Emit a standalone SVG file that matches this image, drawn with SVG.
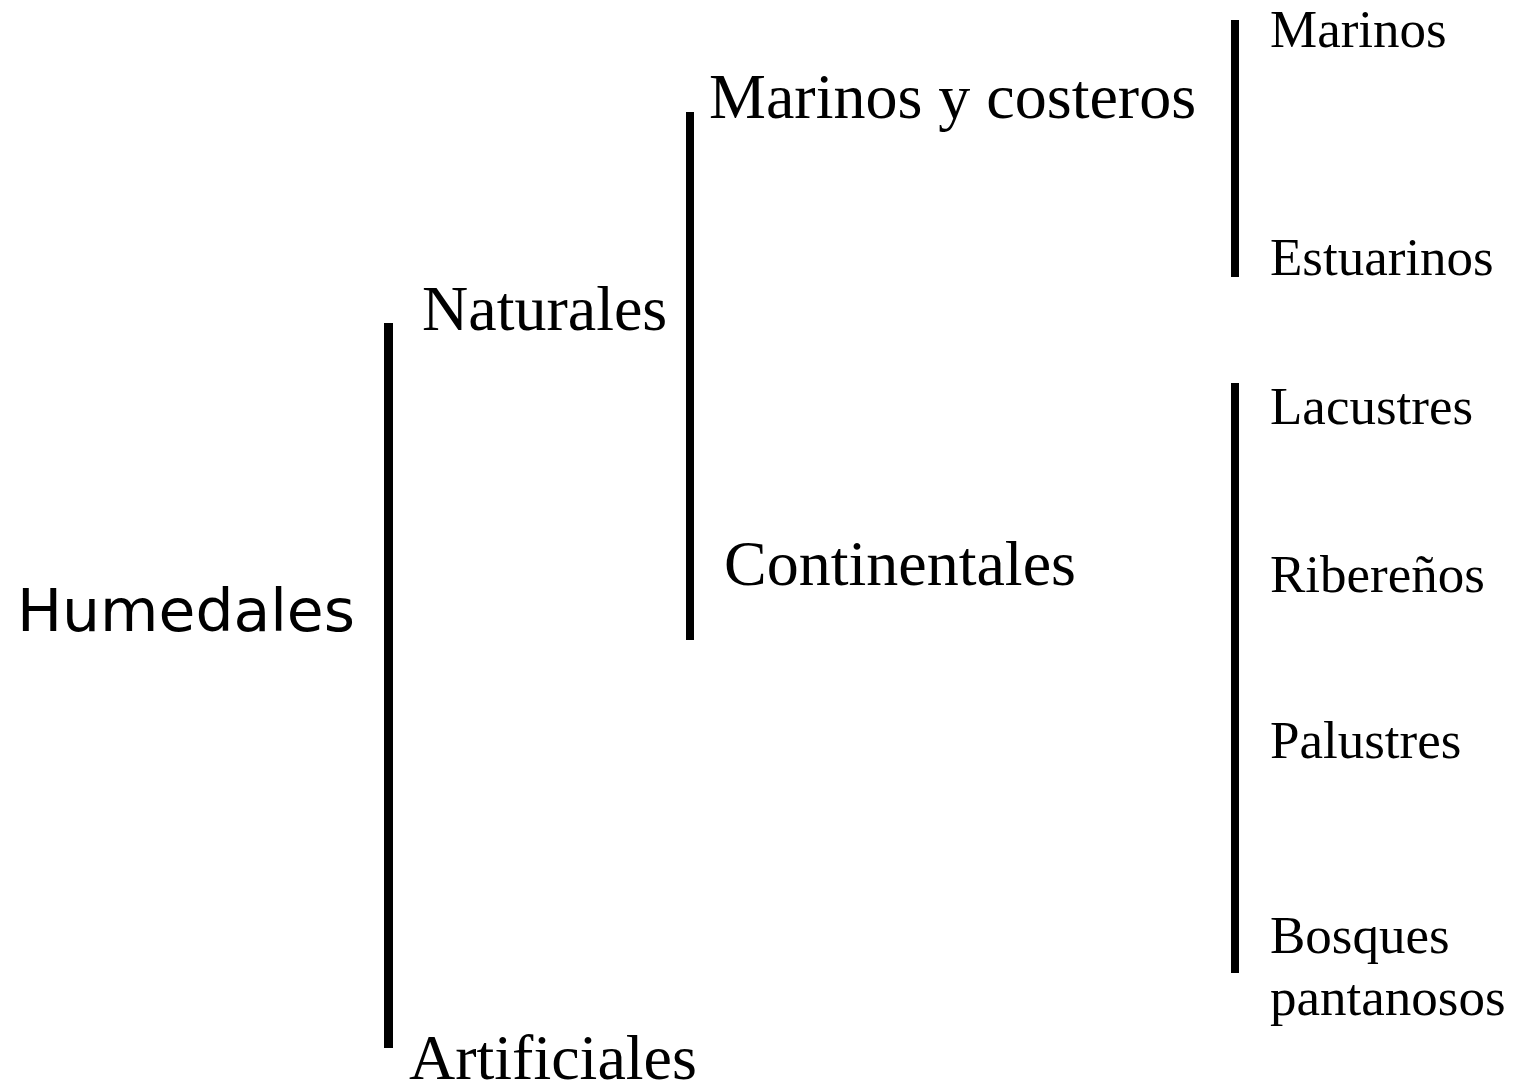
<svg xmlns="http://www.w3.org/2000/svg" width="1513" height="1092" viewBox="0 0 1513 1092">
<style>
.bar{fill:#000}
.t{font-family:"Liberation Serif","Times New Roman",serif;fill:#000}
.l1{font-size:64px}
.l2{font-size:53px}
.root{font-family:"DejaVu Sans","Liberation Sans",sans-serif;font-size:58px;fill:#000}
</style>
<rect width="1513" height="1092" fill="#fff"/>
<g id="connectors">
<rect class="bar" x="384" y="323" width="9" height="725"/>
<rect class="bar" x="686" y="112" width="8" height="528"/>
<rect class="bar" x="1231" y="20" width="8" height="257"/>
<rect class="bar" x="1231" y="383" width="8" height="590"/>
</g>
<g id="humedales"><text class="root" x="17" y="631" textLength="338" lengthAdjust="spacingAndGlyphs">Humedales</text></g>
<g id="naturales"><text class="t l1" x="422" y="330">Naturales</text></g>
<g id="artificiales"><text class="t l1" x="409" y="1079">Artificiales</text></g>
<g id="marinos-costeros"><text class="t l1" x="709" y="118">Marinos y costeros</text></g>
<g id="continentales"><text class="t l1" x="724" y="585">Continentales</text></g>
<g id="marinos"><text class="t l2" x="1270" y="47">Marinos</text></g>
<g id="estuarinos"><text class="t l2" x="1270" y="275">Estuarinos</text></g>
<g id="lacustres"><text class="t l2" x="1270" y="424">Lacustres</text></g>
<g id="riberenos"><text class="t l2" x="1270" y="592">Ribereños</text></g>
<g id="palustres"><text class="t l2" x="1270" y="758">Palustres</text></g>
<g id="bosques"><text class="t l2" x="1270" y="953">Bosques</text><text class="t l2" x="1270" y="1015">pantanosos</text></g>
</svg>
